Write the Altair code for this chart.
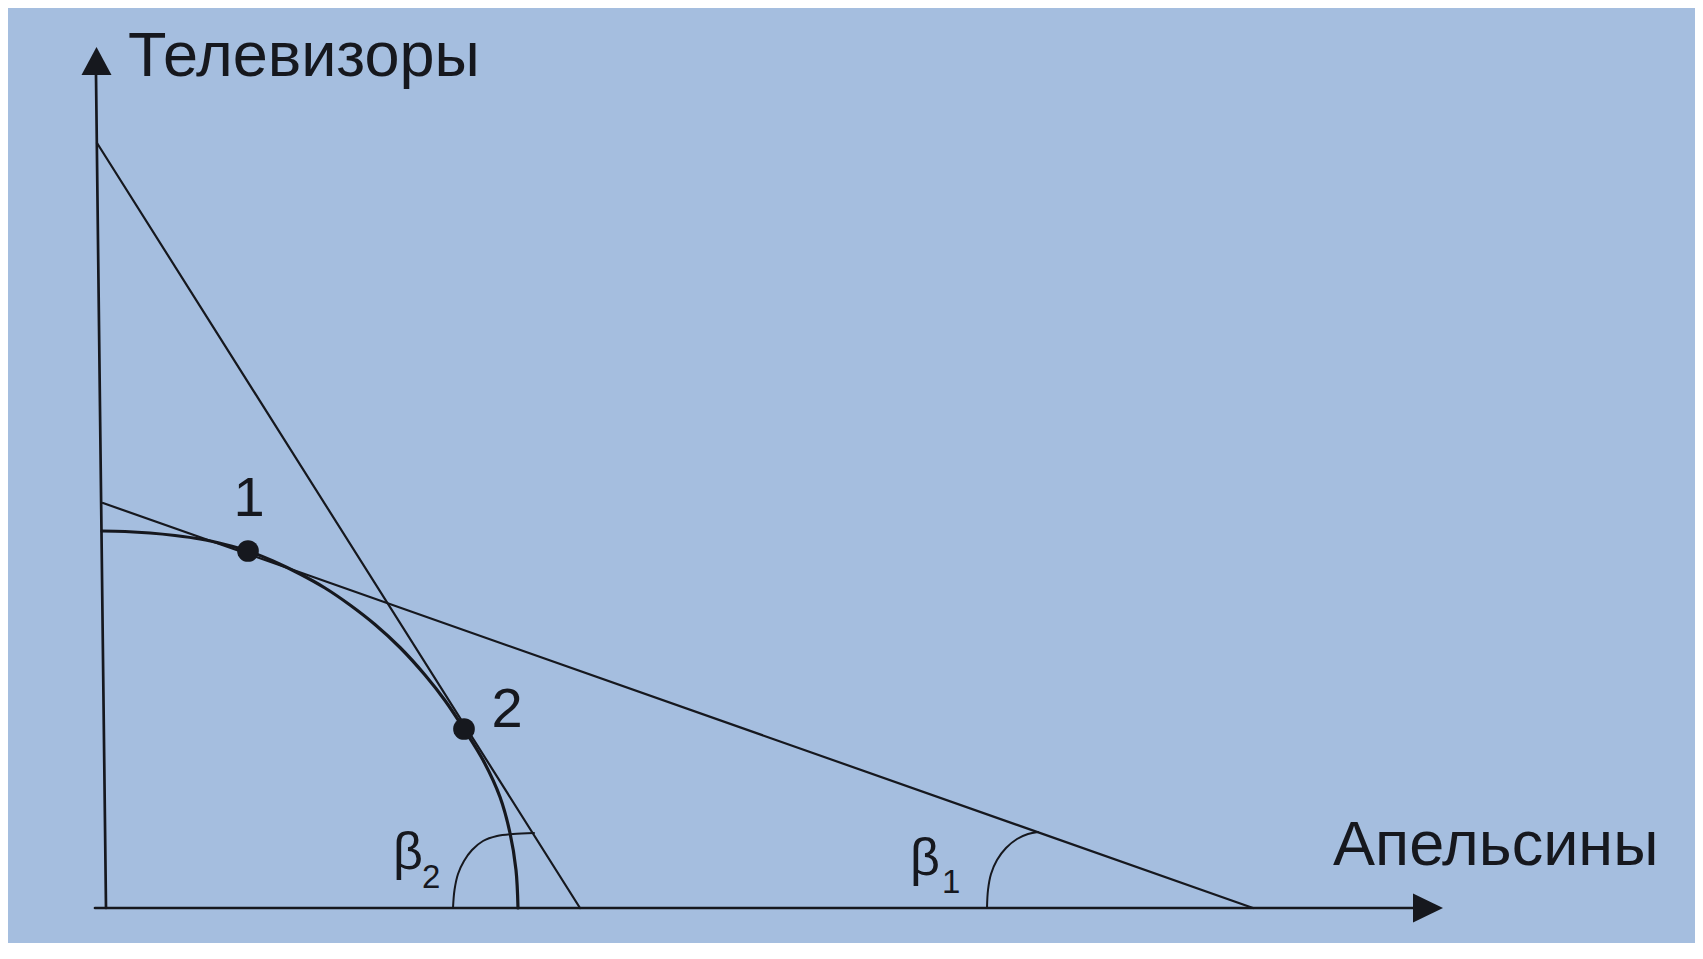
import altair as alt
import pandas as pd

# Units: x = Апельсины, y = Телевизоры (origin at the corner of the axes)
# Production possibility frontier
ppf_x = [-0.4, 1.9, 4.4, 6.9, 9.4, 11.9, 14.2, 16.7, 19.4, 21.9, 24.4, 26.9, 29.4,
         31.9, 33.9, 35.8, 37.7, 39.4, 40.4, 41.0, 41.2]
ppf_y = [37.7, 37.65, 37.5, 37.25, 36.9, 36.35, 35.7, 34.7, 33.4, 32.0, 30.3, 28.35, 26.05,
         23.3, 20.75, 17.9, 14.8, 11.1, 7.5, 3.8, 0.0]

# Tangent (price) lines
steep_x = [-0.9, 47.4]
steep_y = [76.5, 0.0]
shallow_x = [-0.3, 114.7]
shallow_y = [40.5, 0.0]

# Axes lines
yaxis_x = [-1.0, 0.0]
yaxis_y = [83.3, 0.0]
xaxis_x = [-1.1, 130.7]
xaxis_y = [0.0, 0.0]

# Angle arcs
beta2_x = [34.7, 34.85, 35.2, 35.8, 36.6, 37.7, 39.1, 40.7, 42.8]
beta2_y = [0.0, 1.8, 3.4, 4.7, 5.8, 6.7, 7.2, 7.4, 7.5]
beta1_x = [88.1, 88.2, 88.5, 89.1, 90.0, 91.1, 92.2, 93.2]
beta1_y = [0.0, 1.8, 3.4, 4.8, 6.0, 6.9, 7.4, 7.6]

# Tangency points and their labels
pt_x = [14.2, 35.8]
pt_y = [35.7, 17.9]
pt_label = ["1", "2"]
pt_label_x = [14.3, 40.1]
pt_label_y = [39.2, 18.1]

# Axis titles
title_text = ["Телевизоры", "Апельсины"]
title_x = [2.2, 122.7]
title_y = [83.2, 4.3]

# Greek angle labels
greek_text = ["β", "β"]
greek_x = [28.7, 80.4]
greek_y = [3.9, 3.3]
sub_text = ["2", "1"]
sub_x = [31.6, 83.6]
sub_y = [2.0, 1.5]

# Arrow heads
arrow_x = [-0.95, 132.2]
arrow_y = [84.7, 0.0]
arrow_shape = ["M-1,0.93L0,-0.93L1,0.93Z", "M-1,-0.97L1,0L-1,0.97Z"]

INK = "#16181e"
BG = "#a5bedf"

xs = alt.Scale(domain=[-9.8, 158.9], nice=False, zero=False)
ys = alt.Scale(domain=[-3.5, 90.0], nice=False, zero=False)


def line(xv, yv, width, interp="linear"):
    df = pd.DataFrame({"x": xv, "y": yv, "i": list(range(len(xv)))})
    return alt.Chart(df).mark_line(
        color=INK, strokeWidth=width, interpolate=interp, strokeCap="round"
    ).encode(
        x=alt.X("x:Q", scale=xs, axis=None),
        y=alt.Y("y:Q", scale=ys, axis=None),
        order="i:Q",
    )


def texts(tv, xv, yv, size):
    df = pd.DataFrame({"t": tv, "x": xv, "y": yv})
    return alt.Chart(df).mark_text(
        font="Liberation Sans", fontSize=size, color=INK, align="left", baseline="alphabetic"
    ).encode(
        x=alt.X("x:Q", scale=xs, axis=None),
        y=alt.Y("y:Q", scale=ys, axis=None),
        text="t:N",
    )


layers = [
    line(yaxis_x, yaxis_y, 2.7),
    line(xaxis_x, xaxis_y, 2.7),
    line(steep_x, steep_y, 2.2),
    line(shallow_x, shallow_y, 2.2),
    line(ppf_x, ppf_y, 3.2, "catmull-rom"),
    line(beta2_x, beta2_y, 2.0, "catmull-rom"),
    line(beta1_x, beta1_y, 2.0, "catmull-rom"),
]

arrows = alt.Chart(pd.DataFrame({"x": arrow_x, "y": arrow_y, "s": arrow_shape})).mark_point(
    filled=True, size=900, color=INK, opacity=1
).encode(
    x=alt.X("x:Q", scale=xs, axis=None),
    y=alt.Y("y:Q", scale=ys, axis=None),
    shape=alt.Shape("s:N", scale=None),
)

points = alt.Chart(pd.DataFrame({"x": pt_x, "y": pt_y})).mark_circle(
    size=470, color=INK, opacity=1
).encode(
    x=alt.X("x:Q", scale=xs, axis=None),
    y=alt.Y("y:Q", scale=ys, axis=None),
)

pt_labels = alt.Chart(pd.DataFrame({"t": pt_label, "x": pt_label_x, "y": pt_label_y})).mark_text(
    font="Liberation Sans", fontSize=56, color=INK, align="center", baseline="alphabetic"
).encode(
    x=alt.X("x:Q", scale=xs, axis=None),
    y=alt.Y("y:Q", scale=ys, axis=None),
    text="t:N",
)

chart = alt.layer(
    *layers,
    arrows,
    points,
    pt_labels,
    texts(title_text, title_x, title_y, 63),
    texts(greek_text, greek_x, greek_y, 52),
    texts(sub_text, sub_x, sub_y, 33),
).properties(
    width=1687, height=935, padding=0, autosize=alt.AutoSizeParams(type="none")
).configure(
    background=BG
).configure_view(
    stroke=None
)

chart.save("out.html", embed_options={"renderer": "svg", "actions": False})
